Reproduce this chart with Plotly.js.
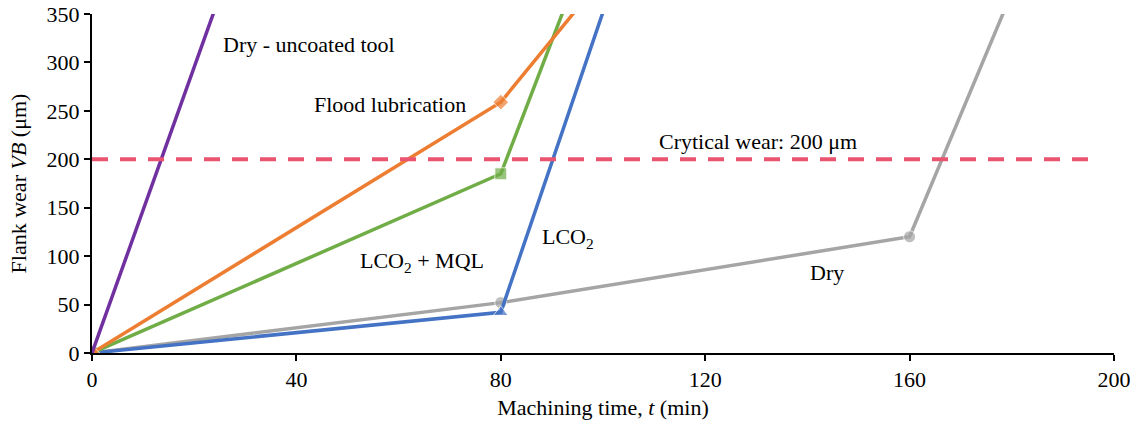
<!DOCTYPE html>
<html>
<head>
<meta charset="utf-8">
<script src="https://cdn.plot.ly/plotly-3.0.1.min.js"></script>
<style>html,body{margin:0;padding:0;background:#fff;}#chart{width:1139px;height:429px;}</style>
</head>
<body>
<div id="chart"></div>
<script>
// Data (machining time t in min, flank wear VB in µm)
const dryUncoatedT = [0, 25];
const dryUncoatedVB = [0, 369];
const floodT = [0, 80, 100];
const floodVB = [0, 259, 388];
const mqlT = [0, 80, 100];
const mqlVB = [0, 185, 460];
const lco2T = [0, 80, 100];
const lco2VB = [0, 42, 352];
const dryT = [0, 80, 160, 180];
const dryVB = [0, 52, 120, 372];
const criticalT = [0, 197];
const criticalVB = [200, 200];
const xTicks = [0, 40, 80, 120, 160, 200];
const yTicks = [0, 50, 100, 150, 200, 250, 300, 350];

const font = "Liberation Serif";
const fs = 22;

function sizes(arr, s) { return arr.map((v, i) => i === arr.length - 1 ? 0 : s); }

const traces = [
  {x: dryT, y: dryVB, mode: 'lines+markers', line: {color: '#A5A5A5', width: 3.5},
   marker: {symbol: 'circle', size: sizes(dryT, 12), color: '#A5A5A5'}},
  {x: lco2T, y: lco2VB, mode: 'lines+markers', line: {color: '#4472C4', width: 3.5},
   marker: {symbol: 'triangle-up', size: sizes(lco2T, 13), color: '#4472C4'}},
  {x: mqlT, y: mqlVB, mode: 'lines+markers', line: {color: '#70AD47', width: 3.5},
   marker: {symbol: 'square', size: sizes(mqlT, 12), color: '#70AD47'}},
  {x: floodT, y: floodVB, mode: 'lines+markers', line: {color: '#ED7D31', width: 3.5},
   marker: {symbol: 'diamond', size: sizes(floodT, 12), color: '#ED7D31'}},
  {x: dryUncoatedT, y: dryUncoatedVB, mode: 'lines', line: {color: '#7030A0', width: 3.5}},
  {x: criticalT, y: criticalVB, mode: 'lines', line: {color: '#EB5470', width: 4, dash: '16px,12px'}}
];

function ann(text, x, y) {
  return {text: text, x: x, y: y, xref: 'x', yref: 'y', xanchor: 'left', yanchor: 'middle',
          showarrow: false, font: {family: font, size: fs, color: '#000'}};
}

const layout = {
  width: 1139, height: 429,
  margin: {l: 92, r: 25, t: 14, b: 76},
  paper_bgcolor: '#fff', plot_bgcolor: '#fff',
  showlegend: false,
  font: {family: font, size: fs, color: '#000'},
  xaxis: {
    range: [0, 200], tickvals: xTicks, showgrid: false, zeroline: false,
    showline: true, linecolor: '#000', linewidth: 2,
    ticks: 'outside', ticklen: 6, tickwidth: 2, tickcolor: '#000',
    tickfont: {family: font, size: fs, color: '#000'},
    title: {text: 'Machining time, <i>t</i> (min)', font: {family: font, size: fs, color: '#000'}, standoff: 8}
  },
  yaxis: {
    range: [0, 350], tickvals: yTicks, showgrid: false, zeroline: false,
    showline: true, linecolor: '#000', linewidth: 2,
    ticks: 'outside', ticklen: 6, tickwidth: 2, tickcolor: '#000',
    tickfont: {family: font, size: fs, color: '#000'},
    title: {text: 'Flank wear <i>VB</i> (μm)', font: {family: font, size: fs, color: '#000'}, standoff: 14}
  },
  annotations: [
    ann('Dry - uncoated tool', 25.2, 318),
    ann('Flood lubrication', 43.1, 257),
    ann('Crytical wear: 200 μm', 110.6, 218),
    ann('LCO<sub>2</sub> + MQL', 52, 94),
    ann('LCO<sub>2</sub>', 87.7, 119),
    ann('Dry', 140.1, 83)
  ]
};

Plotly.newPlot('chart', traces, layout, {displayModeBar: false, staticPlot: true});
</script>
</body>
</html>
